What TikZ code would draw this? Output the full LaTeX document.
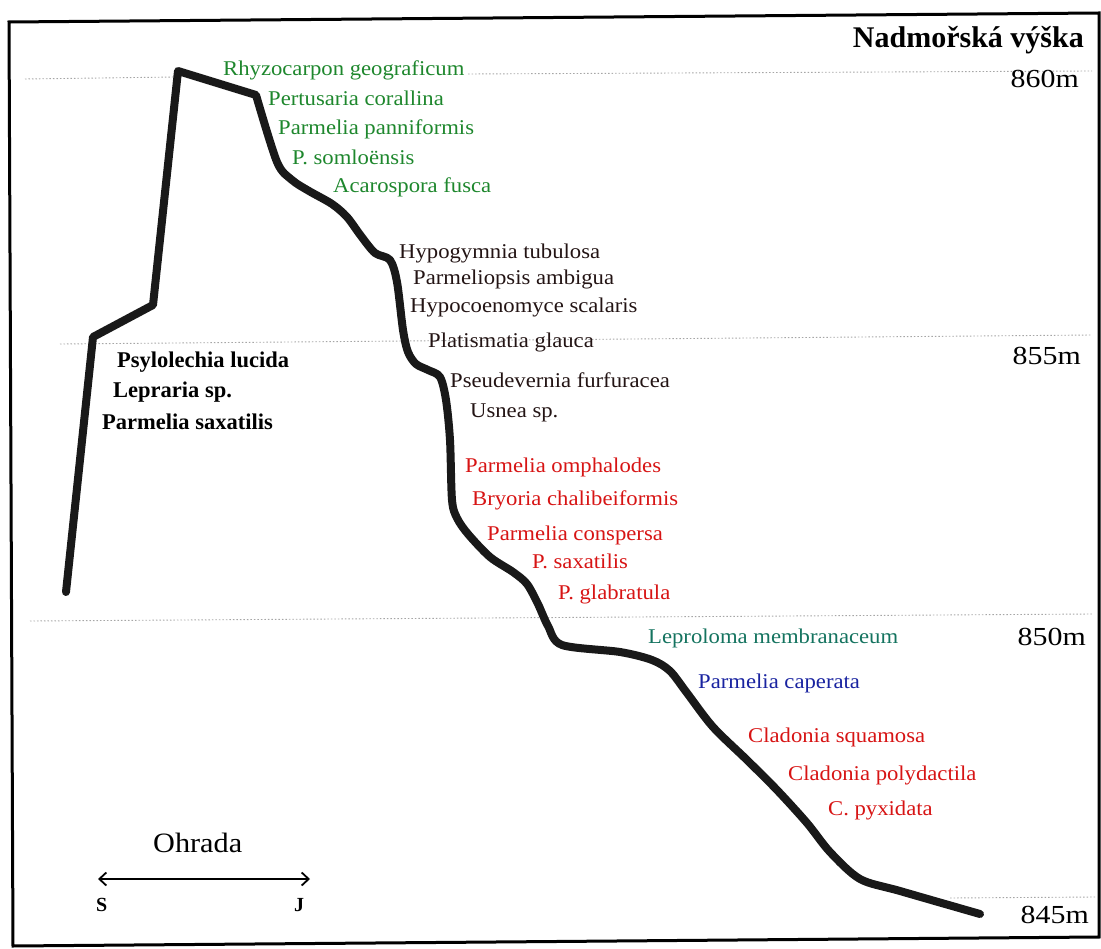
\documentclass[tikz,border=0pt]{standalone}
\usepackage{fontspec}
\setmainfont{Liberation Serif}
\newfontfamily\wide[FakeStretch=1.08]{Liberation Serif}
\newfontfamily\wider[FakeStretch=1.15]{Liberation Serif}
\usetikzlibrary{arrows.meta}
\definecolor{lgreen}{RGB}{30,135,45}
\definecolor{ldark}{RGB}{35,20,20}
\definecolor{lred}{RGB}{215,20,20}
\definecolor{lteal}{RGB}{20,115,95}
\definecolor{lblue}{RGB}{25,35,160}
\tikzset{
  sp/.style={anchor=base west, inner sep=0pt, font=\wide\fontsize{21}{24}\selectfont},
  spb/.style={anchor=base west, inner sep=0pt, font=\bfseries\fontsize{22.5}{26}\selectfont, text=black},
  alt/.style={anchor=base east, inner sep=0pt, font=\wider\fontsize{26}{30}\selectfont},
  level/.style={gray!70, line width=0.9pt, dash pattern=on 1.5pt off 2pt},
  profile/.style={line width=8pt, line join=round, line cap=round, black!90},
  frame/.style={line width=3pt, black},
  dirlab/.style={anchor=base west, inner sep=0pt, font=\bfseries\fontsize{20}{22}\selectfont}
}
\begin{document}
\begin{tikzpicture}[x=1pt,y=-1pt]
\useasboundingbox (0,0) rectangle (1101,949);
% frame
\draw[frame] (9,22) -- (1099,13) -- (1099,937) -- (13,946) -- cycle;
% level lines
\draw[level] (25,79) -- (175,77);
\draw[level] (468,74) -- (1092,71);
\draw[level] (60,344) -- (1092,335);
\draw[level] (30,621) -- (1092,614);
\draw[level] (950,898) -- (1095,897);
% heading and altitudes
\node[anchor=base east, inner sep=0pt, font=\bfseries\fontsize{30}{34}\selectfont] (head) at (1084,48) {Nadmořská výška};
\node[alt] (a860) at (1079,88) {860m};
\node[alt] (a855) at (1081,365) {855m};
\node[alt] (a850) at (1086,645) {850m};
\node[alt] (a845) at (1089,923) {845m};
% green
\node[sp, text=lgreen] (g1) at (223,76) {Rhyzocarpon geograficum};
\node[sp, text=lgreen] (g2) at (268,106) {Pertusaria corallina};
\node[sp, text=lgreen] (g3) at (278,135) {Parmelia panniformis};
\node[sp, text=lgreen] (g4) at (292,165) {P. somloënsis};
\node[sp, text=lgreen] (g5) at (333,193) {Acarospora fusca};
% dark
\node[sp, text=ldark] (d1) at (399,259) {Hypogymnia tubulosa};
\node[sp, text=ldark] (d2) at (413,285) {Parmeliopsis ambigua};
\node[sp, text=ldark] (d3) at (410,313) {Hypocoenomyce scalaris};
\node[sp, text=ldark] (d4) at (428,348) {Platismatia glauca};
\node[sp, text=ldark] (d5) at (450,388) {Pseudevernia furfuracea};
\node[sp, text=ldark] (d6) at (470,418) {Usnea sp.};
% red
\node[sp, text=lred] (r1) at (465,473) {Parmelia omphalodes};
\node[sp, text=lred] (r2) at (472,505) {Bryoria chalibeiformis};
\node[sp, text=lred] (r3) at (487,540) {Parmelia conspersa};
\node[sp, text=lred] (r4) at (532,568) {P. saxatilis};
\node[sp, text=lred] (r5) at (558,599) {P. glabratula};
\node[sp, text=lteal] (t1) at (648,643) {Leproloma membranaceum};
\node[sp, text=lblue] (b1) at (698,688) {Parmelia caperata};
\node[sp, text=lred] (c1) at (748,742) {Cladonia squamosa};
\node[sp, text=lred] (c2) at (788,780) {Cladonia polydactila};
\node[sp, text=lred] (c3) at (828,815) {C. pyxidata};
% left bold
\node[spb] (k1) at (117,368) {Psylolechia lucida};
\node[spb] (k2) at (113,398) {Lepraria sp.};
\node[spb] (k3) at (102,430) {Parmelia saxatilis};
% profile
\draw[profile] (66,592) -- (93,337) -- (153,305) -- (178,71) -- (256,95)
  -- plot[smooth, tension=0.5] coordinates {(256,95) (277,162) (292,180) (309,191) (332,204) (347,217) (361,236) (375,253) (390,260) (397,282) (403,330) (408,352) (416,364) (428,370) (440,377) (446,400) (450,440) (452,500) (457,518) (468,534) (490,557) (513,572) (527,584) (538,604) (548,626) (562,645) (620,652) (652,660) (670,671) (687,693) (713,727) (747,760) (777,790) (807,823) (830,852) (860,879) (900,891) (980,914)};
% Ohrada scale
\node[anchor=base west, inner sep=0pt, font=\wide\fontsize{28}{32}\selectfont] (oh) at (153,852) {Ohrada};
\coordinate (sL) at (98,879);
\coordinate (sR) at (310,879);
\draw[line width=1.8pt, {Straight Barb[length=7pt,width=13pt,line width=1.8pt]}-{Straight Barb[length=7pt,width=13pt,line width=1.8pt]}] (sL) -- (sR);
\node[dirlab] (sS) at (96,911) {S};
\node[dirlab] (sJ) at (294,911) {J};
\end{tikzpicture}
\end{document}
